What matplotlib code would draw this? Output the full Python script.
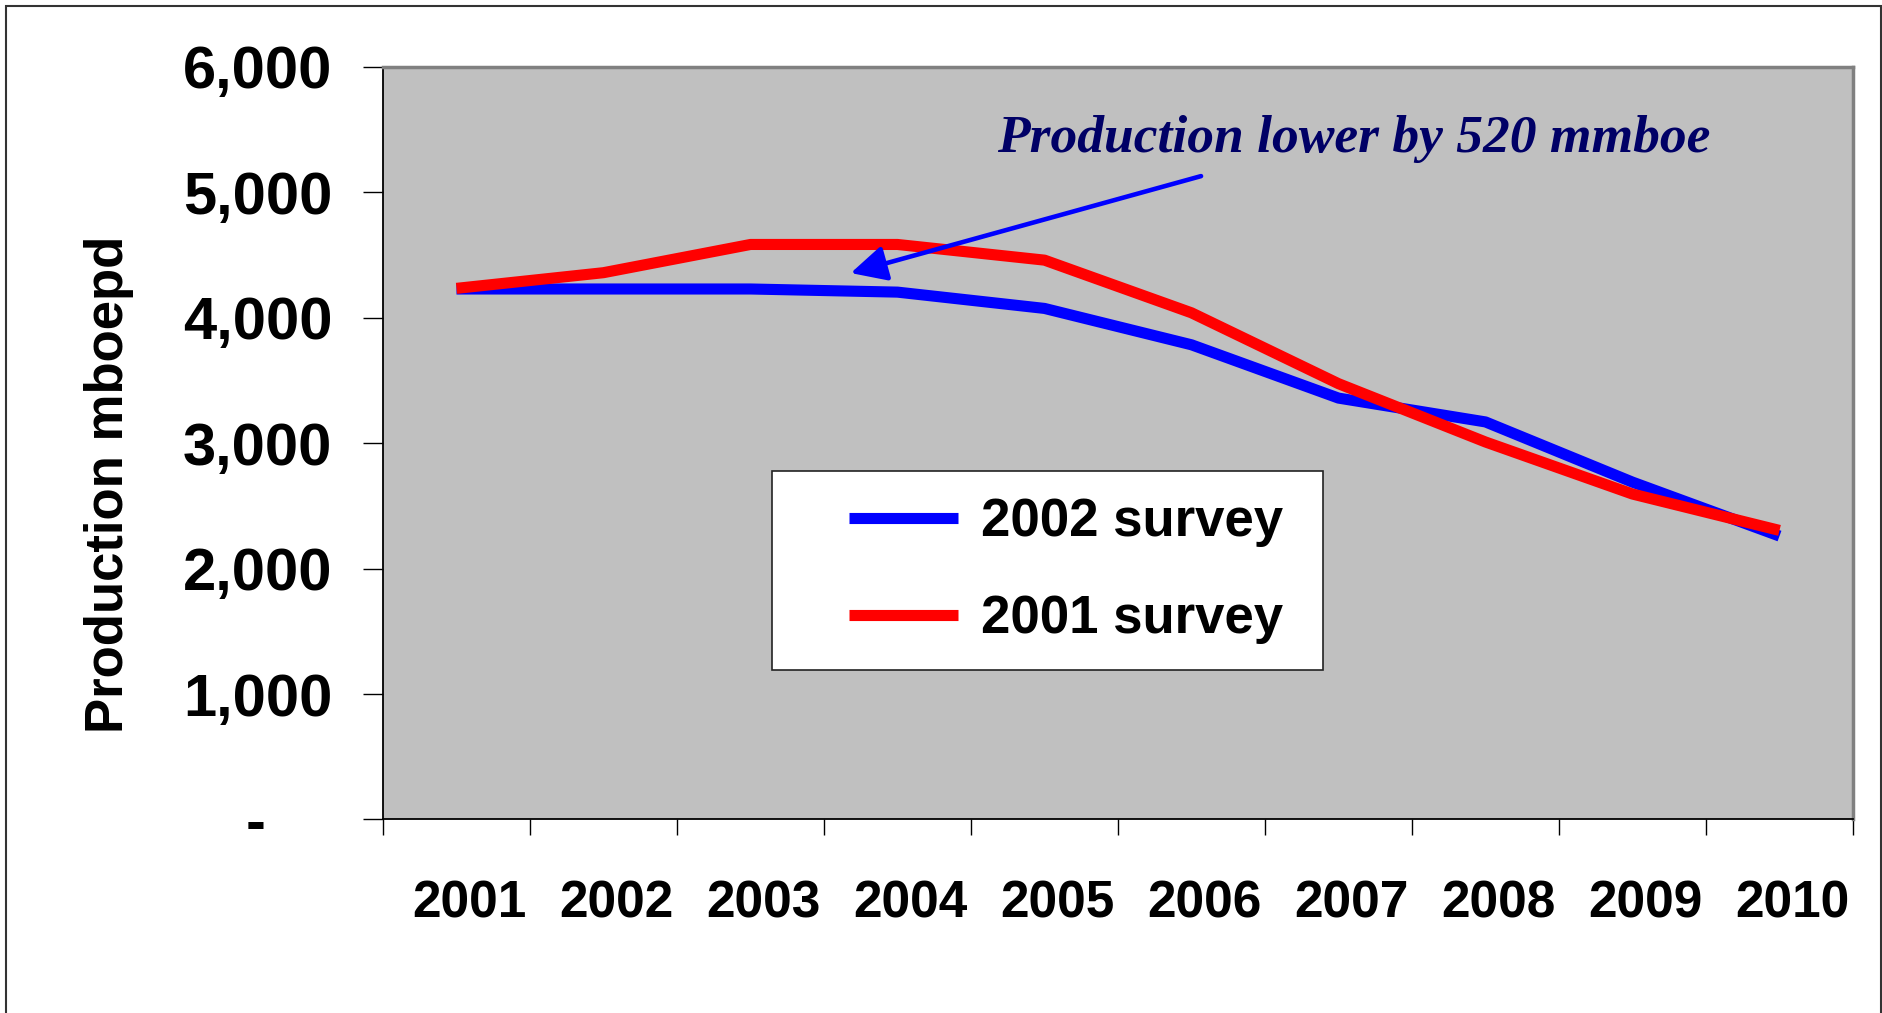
import matplotlib
matplotlib.use('Agg')
import matplotlib.pyplot as plt
from matplotlib.ticker import FixedLocator, FuncFormatter
from matplotlib.patches import Rectangle
from matplotlib.legend_handler import HandlerLine2D
from matplotlib.transforms import ScaledTranslation

# data (mboepd)
years = ['2001', '2002', '2003', '2004', '2005', '2006', '2007', '2008', '2009', '2010']
survey_2002 = [4230, 4230, 4230, 4205, 4075, 3785, 3360, 3170, 2690, 2260]
survey_2001 = [4235, 4360, 4585, 4585, 4460, 4040, 3475, 3010, 2595, 2305]
y_ticks = [0, 1000, 2000, 3000, 4000, 5000, 6000]

note_text = 'Production lower by 520 mmboe'
note_pos = (3.68, 5320)
arrow_tail = (5.065, 5130)
arrow_head = (2.682, 4357)

plt.rcParams['font.family'] = ['Liberation Sans', 'DejaVu Sans']
plt.rcParams['font.weight'] = 'bold'

W, H = 1883, 1013
fig = plt.figure(figsize=(W / 100, H / 100), dpi=100)
ax = fig.add_axes([383 / W, 1 - 819.5 / H, 1470 / W, 752.5 / H])
ax.set_facecolor('#C0C0C0')

x = list(range(len(years)))
ax.plot(x, survey_2002, color='#0000FF', lw=8, solid_capstyle='butt', label='2002 survey')
ax.plot(x, survey_2001, color='#FF0000', lw=8, solid_capstyle='butt', label='2001 survey')

ax.set_xlim(-0.5, len(years) - 0.5)
ax.set_ylim(0, 6000)

# y axis
ax.yaxis.set_major_locator(FixedLocator(y_ticks))
ax.yaxis.set_major_formatter(FuncFormatter(lambda v, p: '{:,.0f}'.format(v) if v else '-    '))
ax.tick_params(axis='y', length=14.4, width=1, pad=22, labelsize=43, color='black')

# x axis: labels at centres, tick marks between categories
ax.set_xticks(x)
ax.set_xticklabels(years)
ax.set_xticks([i - 0.5 for i in range(len(years) + 1)], minor=True)
ax.tick_params(axis='x', which='major', length=0, pad=43, labelsize=37)
ax.tick_params(axis='x', which='minor', length=11.5, width=1, color='black')
shift = ScaledTranslation(13 / 100, 0, fig.dpi_scale_trans)
for lab in ax.get_xticklabels():
    lab.set_transform(lab.get_transform() + shift)

for s in ['top', 'right']:
    ax.spines[s].set_color('#808080')
    ax.spines[s].set_linewidth(2.5)
for s in ['left', 'bottom']:
    ax.spines[s].set_color('black')
    ax.spines[s].set_linewidth(1.3)

ax.set_ylabel('Production mboepd', fontsize=38, fontweight='bold')
ax.yaxis.set_label_coords((134 - 383) / 1470, 0.445)

# annotation
ax.text(note_pos[0], note_pos[1], note_text, color='#000066', fontsize=38.5,
        family=['Liberation Serif', 'DejaVu Serif'], style='italic', fontweight='bold',
        ha='left', va='baseline')
ax.annotate('', xy=arrow_head, xytext=arrow_tail,
            arrowprops=dict(arrowstyle='-|>,head_length=1.08,head_width=0.54',
                            mutation_scale=20, color='#0000FF', lw=3.3,
                            shrinkA=0, shrinkB=0))

# legend
leg = ax.legend(loc='center', mode='expand', borderaxespad=0,
                bbox_to_anchor=(771.8 / W, 1 - 669.3 / H, 551.2 / W, 197.6 / H),
                bbox_transform=fig.transFigure, fontsize=38, frameon=True,
                fancybox=False, framealpha=1, edgecolor='#222222', facecolor='white',
                borderpad=0.49, labelspacing=0.89, handlelength=3.04,
                handletextpad=0.44,
                handler_map={l: HandlerLine2D(xpad=0.97) for l in ax.get_lines()})
leg.get_frame().set_linewidth(1.2)

# outer frame
fig.add_artist(Rectangle((6 / W, -0.02), (1881 - 6) / W, 1 - 6 / H + 0.02,
                         transform=fig.transFigure, fill=False, ec='#333333', lw=1.5))

fig.savefig('out.png', dpi=100)
